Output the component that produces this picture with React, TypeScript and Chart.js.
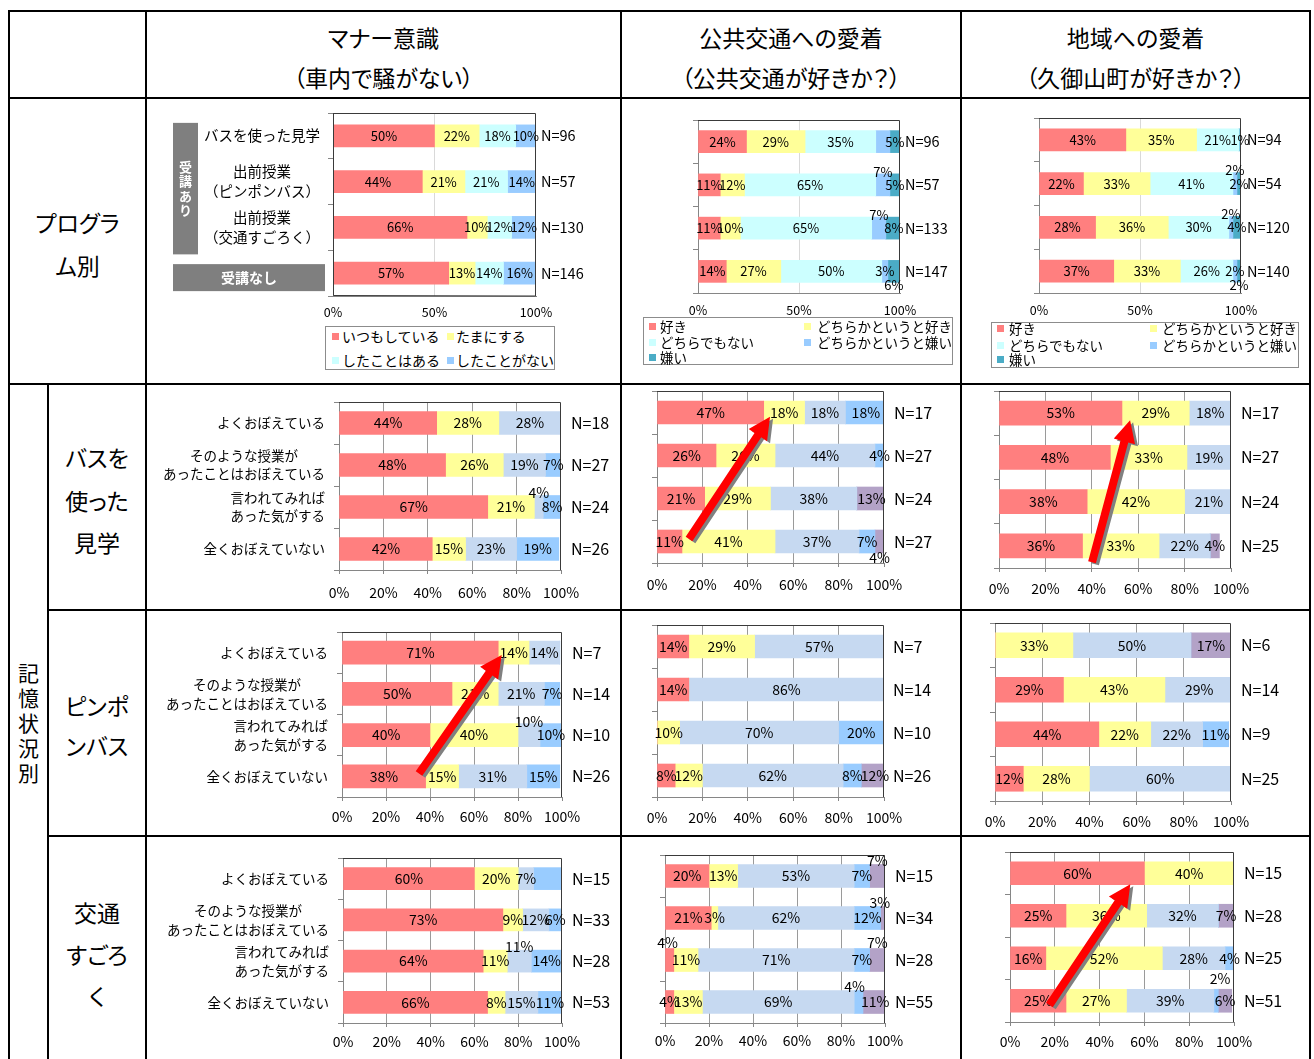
import React, { useEffect, useRef } from "react";
import { Chart, registerables } from "chart.js";

Chart.register(...registerables);

const FONT = '"Noto Sans CJK JP", "Noto Sans", sans-serif';

// ---------- texts ----------
const COLUMN_TITLES = [
  ["マナー意識", "（車内で騒がない）"],
  ["公共交通への愛着", "（公共交通が好きか？）"],
  ["地域への愛着", "（久御山町が好きか？）"],
];
const ROW_TITLE_PROGRAM = ["プログラ", "ム別"];
const ROW_TITLE_MEMORY = "記憶状況別";
const MEMORY_GROUPS = [["バスを", "使った", "見学"], ["ピンポ", "ンバス"], ["交通", "すごろ", "く"]];

// ---------- categories ----------
const PROGRAM_CATEGORIES = [["バスを使った見学"], ["出前授業", "（ピンポンバス）"], ["出前授業", "（交通すごろく）"], ["受講なし"]];
const PROGRAM_GROUP = "受講あり";
const MEMORY_CATEGORIES = [
  ["よくおぼえている"],
  ["そのような授業が", "あったことはおぼえている"],
  ["言われてみれば", "あった気がする"],
  ["全くおぼえていない"],
];

// ---------- series ----------
const MANNER_SERIES = ["いつもしている", "たまにする", "したことはある", "したことがない"];
const LIKE_SERIES = ["好き", "どちらかというと好き", "どちらでもない", "どちらかというと嫌い", "嫌い"];
const COLORS_PROGRAM = ["#FF7F7F", "#FFFF99", "#CCFFFF", "#99CCFF", "#4BACC6"];
const COLORS_MEMORY = ["#FF7F7F", "#FFFF99", "#C6D9F1", "#99CCFF", "#B3A2C7"];

// ---------- values (rows = series, columns = categories) ----------
const MANNER_BY_PROGRAM = [[50, 44, 66, 57], [22, 21, 10, 13], [18, 21, 12, 14], [10, 14, 12, 16]];
const N_MANNER_BY_PROGRAM = [96, 57, 130, 146];
const TRANSIT_BY_PROGRAM = [[24, 11, 11, 14], [29, 12, 10, 27], [35, 65, 65, 50], [7, 7, 7, 3], [5, 5, 8, 6]];
const N_TRANSIT_BY_PROGRAM = [96, 57, 133, 147];
const TOWN_BY_PROGRAM = [[43, 22, 28, 37], [35, 33, 36, 33], [21, 41, 30, 26], [0, 2, 2, 2], [1, 2, 4, 2]];
const N_TOWN_BY_PROGRAM = [94, 54, 120, 140];

const MANNER_BUS = [[44, 48, 67, 42], [28, 26, 21, 15], [28, 19, 4, 23], [0, 7, 8, 19]];
const N_MANNER_BUS = [18, 27, 24, 26];
const TRANSIT_BUS = [[47, 26, 21, 11], [18, 26, 29, 41], [18, 44, 38, 37], [18, 4, 0, 7], [0, 0, 13, 4]];
const N_TRANSIT_BUS = [17, 27, 24, 27];
const TOWN_BUS = [[53, 48, 38, 36], [29, 33, 42, 33], [18, 19, 21, 22], [0, 0, 0, 0], [0, 0, 0, 4]];
const N_TOWN_BUS = [17, 27, 24, 25];

const MANNER_PINGPONG = [[71, 50, 40, 38], [14, 21, 40, 15], [14, 21, 10, 31], [0, 7, 10, 15]];
const N_MANNER_PINGPONG = [7, 14, 10, 26];
const TRANSIT_PINGPONG = [[14, 14, 0, 8], [29, 0, 10, 12], [57, 86, 70, 62], [0, 0, 20, 8], [0, 0, 0, 12]];
const N_TRANSIT_PINGPONG = [7, 14, 10, 26];
const TOWN_PINGPONG = [[0, 29, 44, 12], [33, 43, 22, 28], [50, 29, 22, 60], [0, 0, 11, 0], [17, 0, 0, 0]];
const N_TOWN_PINGPONG = [6, 14, 9, 25];

const MANNER_SUGOROKU = [[60, 73, 64, 66], [20, 9, 11, 8], [7, 12, 11, 15], [13, 6, 14, 11]];
const N_MANNER_SUGOROKU = [15, 33, 28, 53];
const TRANSIT_SUGOROKU = [[20, 21, 4, 4], [13, 3, 11, 13], [53, 62, 71, 69], [7, 12, 7, 4], [7, 3, 7, 11]];
const N_TRANSIT_SUGOROKU = [15, 34, 28, 55];
const TOWN_SUGOROKU = [[60, 25, 16, 25], [40, 36, 52, 27], [0, 32, 28, 39], [0, 0, 4, 2], [0, 7, 0, 6]];
const N_TOWN_SUGOROKU = [15, 28, 25, 51];

// arrows: [from value, from category index, to value, to category index]
const ARROW_BUS_TRANSIT = [14.1, 2.94, 49.8, 0.1];
const ARROW_BUS_TOWN = [40.1, 3.37, 56.5, 0.16];
const ARROW_PINGPONG_MANNER = [35, 2.93, 72.6, 0.06];
const ARROW_SUGOROKU_TOWN = [17.6, 3.1, 53.7, 0.26];

type Spec = {
  id: string;
  cell: number[];
  plot: number[];
  categories: string[][] | null;
  labelRight?: number;
  catFont?: number;
  catLineH?: number;
  names: string[];
  colors: string[];
  values: number[][];
  n: number[];
  kind: "program" | "memory";
  bar: number;
  xGap: number;
  nPad: number;
  adjust?: Record<string, any>;
  arrow?: number[];
  groupBoxes?: boolean;
};

const SPECS: Spec[] = [
  { id: "p-manner", cell: [147, 99, 473, 284], plot: [333, 113, 536, 296], categories: PROGRAM_CATEGORIES, labelRight: 320, catFont: 14.5, catLineH: 20,
    names: MANNER_SERIES, colors: COLORS_PROGRAM, values: MANNER_BY_PROGRAM, n: N_MANNER_BY_PROGRAM, kind: "program", bar: 22, xGap: 16, nPad: 5, groupBoxes: true },
  { id: "p-transit", cell: [622, 99, 339, 284], plot: [698, 120, 900, 293], categories: null,
    names: LIKE_SERIES, colors: COLORS_PROGRAM, values: TRANSIT_BY_PROGRAM, n: N_TRANSIT_BY_PROGRAM, kind: "program", bar: 22, xGap: 17, nPad: 5,
    adjust: { "3,0": "hide", "3,1": [0, -13], "3,2": [0, -13], "4,3": [0, 14] } },
  { id: "p-town", cell: [963, 99, 346, 284], plot: [1039, 118, 1241, 293], categories: null,
    names: LIKE_SERIES, colors: COLORS_PROGRAM, values: TOWN_BY_PROGRAM, n: N_TOWN_BY_PROGRAM, kind: "program", bar: 22, xGap: 17, nPad: 6,
    adjust: { "3,1": [0, -14], "3,2": [0, -13], "4,3": [0, 14] } },

  { id: "m-bus-manner", cell: [147, 385, 473, 224], plot: [339, 402, 561, 570], categories: MEMORY_CATEGORIES, labelRight: 325, catFont: 13.5, catLineH: 18,
    names: MANNER_SERIES, colors: COLORS_MEMORY, values: MANNER_BUS, n: N_MANNER_BUS, kind: "memory", bar: 23, xGap: 23, nPad: 10, adjust: { "2,2": [0, -14] } },
  { id: "m-bus-transit", cell: [622, 385, 339, 224], plot: [657, 391, 884, 563], categories: null,
    names: LIKE_SERIES, colors: COLORS_MEMORY, values: TRANSIT_BUS, n: N_TRANSIT_BUS, kind: "memory", bar: 23, xGap: 22, nPad: 10,
    adjust: { "4,3": [0, 16] }, arrow: ARROW_BUS_TRANSIT },
  { id: "m-bus-town", cell: [963, 385, 346, 224], plot: [999, 391, 1231, 568], categories: null,
    names: LIKE_SERIES, colors: COLORS_MEMORY, values: TOWN_BUS, n: N_TOWN_BUS, kind: "memory", bar: 24, xGap: 21, nPad: 10, arrow: ARROW_BUS_TOWN },

  { id: "m-ping-manner", cell: [147, 611, 473, 224], plot: [342, 632, 562, 797], categories: MEMORY_CATEGORIES, labelRight: 328, catFont: 13.5, catLineH: 19,
    names: MANNER_SERIES, colors: COLORS_MEMORY, values: MANNER_PINGPONG, n: N_MANNER_PINGPONG, kind: "memory", bar: 23, xGap: 20, nPad: 10,
    adjust: { "2,2": [0, -13] }, arrow: ARROW_PINGPONG_MANNER },
  { id: "m-ping-transit", cell: [622, 611, 339, 224], plot: [657, 625, 884, 797], categories: null,
    names: LIKE_SERIES, colors: COLORS_MEMORY, values: TRANSIT_PINGPONG, n: N_TRANSIT_PINGPONG, kind: "memory", bar: 23, xGap: 21, nPad: 9 },
  { id: "m-ping-town", cell: [963, 611, 346, 224], plot: [995, 623, 1231, 801], categories: null,
    names: LIKE_SERIES, colors: COLORS_MEMORY, values: TOWN_PINGPONG, n: N_TOWN_PINGPONG, kind: "memory", bar: 25, xGap: 21, nPad: 10 },

  { id: "m-sugo-manner", cell: [147, 837, 473, 222], plot: [343, 858, 562, 1023], categories: MEMORY_CATEGORIES, labelRight: 329, catFont: 13.5, catLineH: 19,
    names: MANNER_SERIES, colors: COLORS_MEMORY, values: MANNER_SUGOROKU, n: N_MANNER_SUGOROKU, kind: "memory", bar: 22, xGap: 19, nPad: 10,
    adjust: { "3,0": "hide", "2,2": [0, -14] } },
  { id: "m-sugo-transit", cell: [622, 837, 339, 222], plot: [665, 855, 885, 1023], categories: null,
    names: LIKE_SERIES, colors: COLORS_MEMORY, values: TRANSIT_SUGOROKU, n: N_TRANSIT_SUGOROKU, kind: "memory", bar: 23, xGap: 18, nPad: 10,
    adjust: { "4,0": [0, -15], "4,1": [-4, -15], "0,2": [-2, -17], "4,2": [0, -17], "3,3": [-4, -15] } },
  { id: "m-sugo-town", cell: [963, 837, 346, 222], plot: [1010, 852, 1234, 1022], categories: null,
    names: LIKE_SERIES, colors: COLORS_MEMORY, values: TOWN_SUGOROKU, n: N_TOWN_SUGOROKU, kind: "memory", bar: 23, xGap: 20, nPad: 10,
    adjust: { "3,3": [4, -22] }, arrow: ARROW_SUGOROKU_TOWN },
];

function arrowPath(ctx: CanvasRenderingContext2D, x1: number, y1: number, x2: number, y2: number, shaft: number, headW: number, headL: number) {
  const dx = x2 - x1, dy = y2 - y1;
  const len = Math.hypot(dx, dy);
  const ux = dx / len, uy = dy / len;
  const nx = -uy, ny = ux;
  const bx = x2 - ux * headL, by = y2 - uy * headL;
  ctx.beginPath();
  ctx.moveTo(x1 + (nx * shaft) / 2, y1 + (ny * shaft) / 2);
  ctx.lineTo(bx + (nx * shaft) / 2, by + (ny * shaft) / 2);
  ctx.lineTo(bx + (nx * headW) / 2, by + (ny * headW) / 2);
  ctx.lineTo(x2, y2);
  ctx.lineTo(bx - (nx * headW) / 2, by - (ny * headW) / 2);
  ctx.lineTo(bx - (nx * shaft) / 2, by - (ny * shaft) / 2);
  ctx.lineTo(x1 - (nx * shaft) / 2, y1 - (ny * shaft) / 2);
  ctx.closePath();
}

function BarChart({ spec }: { spec: Spec }) {
  const ref = useRef<HTMLCanvasElement>(null);
  const [cx, cy, cw, ch] = spec.cell;
  useEffect(() => {
    const [pl, pt, pr, pb] = spec.plot;
    const memory = spec.kind === "memory";
    const leftW = pl - cx;
    const rightW = cx + cw - pr;
    const xH = spec.xGap + 12;
    const tickFont = memory ? 14 : 12.5;
    const tl = memory ? 4 : 0;
    const tickPad = spec.xGap - tl - (tickFont * 1.2) / 2;
    const valueFont = memory ? 14 : 13;
    const nFont = memory ? 16 : 14.5;

    const framePlugin = {
      id: "frame",
      afterDatasetsDraw(chart: any) {
        const { ctx, chartArea: a } = chart;
        ctx.save();
        ctx.strokeStyle = "#3a3a3a";
        ctx.lineWidth = 1;
        ctx.beginPath();
        ctx.moveTo(a.left, a.top + 0.5);
        ctx.lineTo(a.right - 0.5, a.top + 0.5);
        ctx.lineTo(a.right - 0.5, a.bottom);
        if (spec.groupBoxes) {
          ctx.lineTo(a.left + 0.5, a.bottom - 0.5);
          ctx.lineTo(a.left + 0.5, a.top);
        }
        ctx.stroke();
        ctx.restore();
      },
    };

    const valueLabels = {
      id: "valueLabels",
      afterDatasetsDraw(chart: any) {
        const ctx = chart.ctx;
        ctx.save();
        ctx.font = `${valueFont}px ${FONT}`;
        ctx.fillStyle = "#000";
        ctx.textAlign = "center";
        ctx.textBaseline = "middle";
        chart.data.datasets.forEach((ds: any, s: number) => {
          const meta = chart.getDatasetMeta(s);
          meta.data.forEach((el: any, i: number) => {
            const v = ds.data[i];
            if (!v) return;
            const adj = spec.adjust ? spec.adjust[`${s},${i}`] : undefined;
            if (adj === "hide") return;
            let x = (el.x + el.base) / 2;
            let y = el.y;
            if (adj) {
              x += adj[0];
              y += adj[1];
            }
            ctx.fillText(v + "%", x, y);
          });
        });
        ctx.restore();
      },
    };

    const catLabels = {
      id: "catLabels",
      afterDraw(chart: any) {
        const ctx = chart.ctx;
        const yS = chart.scales.y;
        ctx.save();
        ctx.textBaseline = "middle";
        if (spec.groupBoxes && spec.categories) {
          const y0 = yS.getPixelForValue(0);
          const y2 = yS.getPixelForValue(2);
          const y3 = yS.getPixelForValue(3);
          const bx = 173 - cx;
          const top = y0 - 13, bottom = y2 + 27;
          ctx.fillStyle = "#7F7F7F";
          ctx.fillRect(bx, top, 25, bottom - top);
          ctx.fillRect(bx, y3 - 9, 152, 27);
          ctx.fillStyle = "#fff";
          ctx.textAlign = "center";
          ctx.font = `bold 13px ${FONT}`;
          const chars = Array.from(PROGRAM_GROUP);
          const mid = (top + bottom) / 2;
          chars.forEach((c, k) => ctx.fillText(c, bx + 12.5, mid + (k - (chars.length - 1) / 2) * 14.5));
          ctx.font = `bold 14px ${FONT}`;
          ctx.fillText(spec.categories[3][0], bx + 76, y3 + 4.5);
        }
        if (spec.categories && spec.labelRight) {
          ctx.fillStyle = "#000";
          ctx.font = `${spec.catFont}px ${FONT}`;
          ctx.textAlign = "center";
          const rightX = spec.labelRight - cx;
          spec.categories.forEach((lines, i) => {
            if (spec.groupBoxes && i === 3) return;
            const yc = yS.getPixelForValue(i);
            const blockW = Math.max(...lines.map((l) => ctx.measureText(l).width));
            const centerX = rightX - blockW / 2;
            lines.forEach((line, k) => {
              ctx.fillText(line, centerX, yc + (k - (lines.length - 1) / 2) * (spec.catLineH || 18));
            });
          });
        }
        ctx.restore();
      },
    };

    const arrowPlugin = {
      id: "arrow",
      afterDraw(chart: any) {
        if (!spec.arrow) return;
        const ctx = chart.ctx;
        const xs = chart.scales.x, ys = chart.scales.y;
        const [v1, i1, v2, i2] = spec.arrow;
        const x1 = xs.getPixelForValue(v1), y1 = ys.getPixelForValue(i1);
        const x2 = xs.getPixelForValue(v2), y2 = ys.getPixelForValue(i2);
        ctx.save();
        ctx.translate(3, 2);
        arrowPath(ctx, x1, y1, x2, y2, 8, 22, 22);
        ctx.fillStyle = "#808080";
        ctx.fill();
        ctx.restore();
        ctx.save();
        arrowPath(ctx, x1, y1, x2, y2, 8, 22, 22);
        ctx.fillStyle = "#FF0000";
        ctx.fill();
        ctx.restore();
      },
    };

    const labels = (spec.categories || PROGRAM_CATEGORIES).map((l) => l.join(""));
    const chart = new Chart(ref.current as HTMLCanvasElement, {
      type: "bar",
      data: {
        labels,
        datasets: spec.names.map((name, s) => ({
          label: name,
          data: spec.values[s],
          backgroundColor: spec.colors[s],
          borderWidth: 0,
          barThickness: spec.bar,
          xAxisID: "x",
          yAxisID: "y",
        })),
      },
      options: {
        indexAxis: "y",
        animation: false,
        responsive: false,
        maintainAspectRatio: false,
        layout: { padding: { top: pt - cy, bottom: cy + ch - pb - xH, left: 0, right: 0 } },
        plugins: { legend: { display: false }, tooltip: { enabled: false } },
        scales: {
          x: {
            type: "linear",
            stacked: true,
            min: 0,
            max: 100,
            position: "bottom",
            afterFit: (s: any) => {
              s.height = xH;
              s.paddingLeft = 0;
              s.paddingRight = 0;
            },
            ticks: {
              stepSize: memory ? 20 : 50,
              callback: (v: any) => v + "%",
              color: "#000",
              font: { family: FONT, size: tickFont },
              padding: tickPad,
              maxRotation: 0,
              autoSkip: false,
            },
            grid: {
              color: (c: any) =>
                c.tick && c.tick.value > 0 && c.tick.value < 100 ? (memory ? "#9A9A9A" : "#D9D9D9") : "rgba(0,0,0,0)",
              drawTicks: memory,
              tickLength: 4,
              tickColor: "#868686",
              lineWidth: 1,
            },
            border: { display: true, color: "#868686" },
          },
          y: {
            type: "category",
            stacked: true,
            position: "left",
            offset: true,
            afterFit: (s: any) => {
              s.width = leftW;
              s.paddingTop = 0;
              s.paddingBottom = 0;
            },
            ticks: { display: false },
            grid: { display: true, offset: true, drawOnChartArea: false, drawTicks: true, tickLength: 5, color: "#868686" },
            border: { display: true, color: "#868686" },
          },
          y2: {
            type: "category",
            position: "right",
            offset: true,
            labels: spec.n.map((v) => "N=" + v),
            afterFit: (s: any) => {
              s.width = rightW;
              s.paddingTop = 0;
              s.paddingBottom = 0;
            },
            ticks: { padding: spec.nPad, color: "#000", font: { family: FONT, size: nFont } },
            grid: { display: false, drawTicks: false },
            border: { display: false },
          },
        },
      } as any,
      plugins: [framePlugin, valueLabels, catLabels, arrowPlugin],
    });
    return () => chart.destroy();
  }, []);
  return (
    <canvas
      ref={ref}
      width={cw}
      height={ch}
      style={{ position: "absolute", left: cx, top: cy, width: cw, height: ch }}
    />
  );
}

type LegendProps = {
  box: number[];
  names: string[];
  colors: string[];
  markerX: number[];
  textX: number[];
  rowY: number[];
  font: number;
};

function Legend({ box, names, colors, markerX, textX, rowY, font }: LegendProps) {
  const [x0, y0, x1, y1] = box;
  return (
    <div
      style={{
        position: "absolute",
        left: x0,
        top: y0,
        width: x1 - x0,
        height: y1 - y0,
        border: "1px solid #8C8C8C",
        boxSizing: "border-box",
        background: "#fff",
      }}
    >
      {names.map((n, i) => {
        const r = Math.floor(i / 2), c = i % 2;
        return (
          <React.Fragment key={i}>
            <div
              style={{
                position: "absolute",
                left: markerX[c] - x0 - 1,
                top: rowY[r] - y0 - 1 - 3.5,
                width: 7,
                height: 7,
                background: colors[i],
              }}
            />
            <div
              style={{
                position: "absolute",
                left: textX[c] - x0 - 1,
                top: rowY[r] - y0 - 1 - 10,
                height: 20,
                lineHeight: "20px",
                fontSize: font,
                whiteSpace: "nowrap",
                color: "#000",
              }}
            >
              {n}
            </div>
          </React.Fragment>
        );
      })}
    </div>
  );
}

const LINES = [
  [8, 10, 1303, 2], [8, 97, 1303, 2], [8, 383, 1303, 2], [47, 609, 1264, 2], [47, 835, 1264, 2],
  [8, 10, 2, 1049], [145, 10, 2, 1049], [620, 10, 2, 1049], [960, 10, 2, 1049], [1309, 10, 2, 1049], [47, 383, 2, 676],
];
const COLS = [[147, 473], [622, 338], [962, 347]];

export default function App() {
  const textBase: React.CSSProperties = { position: "absolute", textAlign: "center", color: "#000", whiteSpace: "nowrap", fontFeatureSettings: '"palt"' };
  return (
    <div
      style={{
        position: "absolute",
        left: 0,
        top: 0,
        width: 1314,
        height: 1059,
        overflow: "hidden",
        background: "#fff",
        fontFamily: FONT,
      }}
    >
      {LINES.map((l, i) => (
        <div key={"l" + i} style={{ position: "absolute", left: l[0], top: l[1], width: l[2], height: l[3], background: "#000" }} />
      ))}
      {COLUMN_TITLES.map((t, i) => (
        <React.Fragment key={"h" + i}>
          <div style={{ ...textBase, left: COLS[i][0], width: COLS[i][1], top: 37 - 16, height: 32, lineHeight: "32px", fontSize: 23 }}>{t[0]}</div>
          <div style={{ ...textBase, left: COLS[i][0], width: COLS[i][1], top: 77 - 16, height: 32, lineHeight: "32px", fontSize: 23 }}>{t[1]}</div>
        </React.Fragment>
      ))}
      {ROW_TITLE_PROGRAM.map((t, i) => (
        <div key={"rp" + i} style={{ ...textBase, left: 10, width: 135, top: 222 + i * 43 - 16, height: 32, lineHeight: "32px", fontSize: 23 }}>{t}</div>
      ))}
      {Array.from(ROW_TITLE_MEMORY).map((c, i) => (
        <div key={"rm" + i} style={{ ...textBase, left: 10, width: 37, top: 672 + i * 25 - 14, height: 28, lineHeight: "28px", fontSize: 21 }}>{c}</div>
      ))}
      {MEMORY_GROUPS.map((g, gi) => {
        const starts = [457, 705, 912];
        const steps = [42.5, 40, 41.5];
        return g.map((t, i) => (
          <div key={"mg" + gi + i} style={{ ...textBase, left: 49, width: 96, top: starts[gi] + i * steps[gi] - 16, height: 32, lineHeight: "32px", fontSize: 23 }}>{t}</div>
        ));
      })}
      {SPECS.map((s) => (
        <BarChart key={s.id} spec={s} />
      ))}
      <Legend box={[325, 326, 555, 370]} names={MANNER_SERIES} colors={COLORS_PROGRAM} markerX={[332, 447]} textX={[342, 456]} rowY={[336, 360]} font={14} />
      <Legend box={[643, 317, 953, 365]} names={LIKE_SERIES} colors={COLORS_PROGRAM} markerX={[649, 804]} textX={[660, 817]} rowY={[326, 342, 357]} font={13.5} />
      <Legend box={[991, 322, 1299, 368]} names={LIKE_SERIES} colors={COLORS_PROGRAM} markerX={[997, 1150]} textX={[1009, 1162]} rowY={[328, 345, 359]} font={13.5} />
    </div>
  );
}
